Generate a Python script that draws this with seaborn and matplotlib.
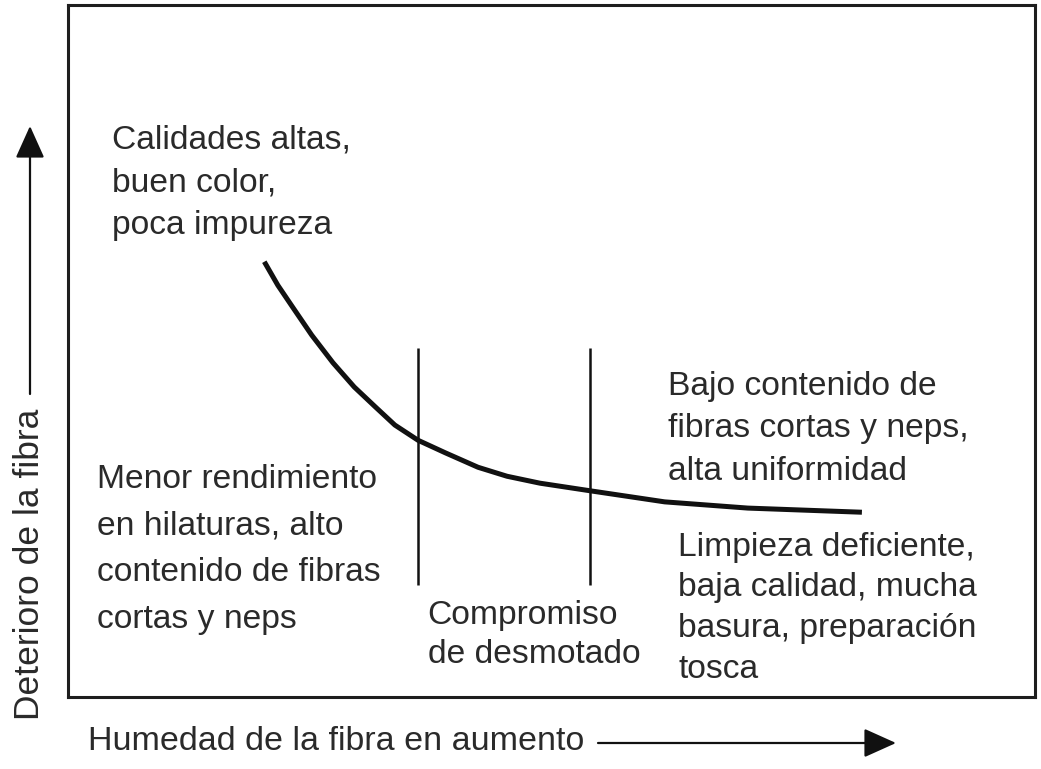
import matplotlib
matplotlib.use("Agg")
import matplotlib.pyplot as plt
import seaborn as sns
import pandas as pd
from matplotlib import font_manager

# ---- data (x: humedad 0-100, y: deterioro 0-100) ----
humedad = [20.3, 21.7, 23.2, 25.2, 27.4, 29.6, 31.8, 33.8, 36.2, 39.0,
           42.4, 45.4, 48.8, 54.0, 61.7, 70.3, 82.1]
deterioro = [62.9, 59.5, 56.4, 52.3, 48.3, 44.8, 41.9, 39.3, 37.1, 35.3,
             33.2, 31.9, 30.9, 29.8, 28.2, 27.3, 26.7]
limites_x = [36.2, 54.0]          # zona "Compromiso de desmotado"
limite_y = [16.2, 50.4]

textos = [
    "Calidades altas,\nbuen color,\npoca impureza",
    "Bajo contenido de\nfibras cortas y neps,\nalta uniformidad",
    "Menor rendimiento\nen hilaturas, alto\ncontenido de fibras\ncortas y neps",
    "Limpieza deficiente,\nbaja calidad, mucha\nbasura, preparación\ntosca",
    "Compromiso\nde desmotado",
]
eje_x = "Humedad de la fibra en aumento"
eje_y = "Deterioro de la fibra"

sns.set_theme(style="white")
names = {f.name for f in font_manager.fontManager.ttflist}
fam = "Liberation Sans" if "Liberation Sans" in names else "DejaVu Sans"
plt.rcParams["font.family"] = [fam, "DejaVu Sans"]

W, H = 1041, 769
fig = plt.figure(figsize=(W / 100, H / 100), dpi=100)
ax = fig.add_axes([68 / W, 1 - 697 / H, (1035 - 68) / W, (697 - 5) / H])

df = pd.DataFrame({"humedad": humedad, "deterioro": deterioro})
sns.lineplot(data=df, x="humedad", y="deterioro", sort=False, ax=ax,
             color="#111111", linewidth=3.6, solid_capstyle="butt")
ax.vlines(limites_x, limite_y[0], limite_y[1], color="#111111", linewidth=1.8)

ax.set_xlim(0, 100)
ax.set_ylim(0, 100)
ax.set_xticks([])
ax.set_yticks([])
ax.set_xlabel("")
ax.set_ylabel("")
for s in ax.spines.values():
    s.set_visible(True)
    s.set_color("#1e1e1e")
    s.set_linewidth(2.2)

tc = "#2a2a2a"
fs = 24.2
layout = [(4.55, 82.8, 1.50), (62.0, 47.1, 1.47), (3.0, 33.7, 1.66),
          (63.1, 23.9, 1.41), (37.2, 14.0, 1.34)]
for t, (x, y, ls) in zip(textos, layout):
    ax.text(x, y, t, fontsize=fs, color=tc, ha="left", va="top",
            linespacing=ls)

# axis labels with arrows
fig.text(88 / W, 1 - 741 / H, eje_x, fontsize=24.5, color=tc,
         ha="left", va="center")
fig.text(30 / W, 1 - 720 / H, eje_y, fontsize=25.5, color=tc,
         ha="center", va="bottom", rotation=90)
arrow = dict(arrowstyle="-|>,head_length=1.0,head_width=0.45",
             color="#111111", linewidth=1.6, mutation_scale=20,
             shrinkA=0, shrinkB=0)
ax.annotate("", xy=(896 / W, 1 - 743 / H), xytext=(598 / W, 1 - 743 / H),
            xycoords="figure fraction", textcoords="figure fraction",
            arrowprops=arrow, annotation_clip=False)
ax.annotate("", xy=(30 / W, 1 - 126 / H), xytext=(30 / W, 1 - 394 / H),
            xycoords="figure fraction", textcoords="figure fraction",
            arrowprops=arrow, annotation_clip=False)

fig.savefig("out.png", dpi=100, facecolor="white")
